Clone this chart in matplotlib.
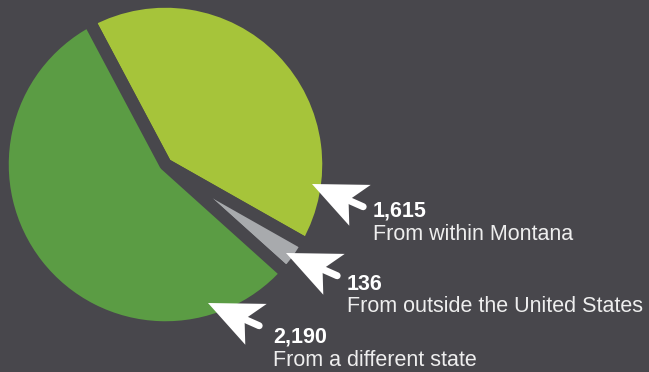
import numpy as np
import matplotlib
matplotlib.use("Agg")
import matplotlib.pyplot as plt
from matplotlib.patches import Polygon
from matplotlib.lines import Line2D

# ---- data ----
values = [1615, 136, 2190]
value_labels = ["1,615", "136", "2,190"]
categories = ["From within Montana", "From outside the United States", "From a different state"]
colors = ["#a6c43a", "#a8aaad", "#5b9c44"]

BG = "#48474c"
W, H = 649, 372

fig = plt.figure(figsize=(W / 100, H / 100), dpi=100, facecolor=BG)
ax = fig.add_axes([0, 0, 1, 1])
ax.set_facecolor(BG)

cx, cy, R = 165.5, H - 164.5, 163
lw_px = 12.5
ax.pie(values, colors=colors, startangle=118, counterclock=False,
       center=(cx, cy), radius=R, frame=True,
       wedgeprops=dict(edgecolor=BG, linewidth=lw_px * 72 / 100, joinstyle="round"))
ax.set_xlim(0, W)
ax.set_ylim(0, H)
ax.set_aspect("equal")
ax.axis("off")

# annotation pointer tips (image px) and label anchors (left x, baseline y image px)
tips = [(312, 184), (286, 253), (208, 303)]
num_pos = [(373, 216), (347, 290), (273, 343)]
lab_pos = [(373, 240), (347, 312), (273, 366)]

u = np.array([0.914, -0.406])  # tip -> tail direction (data coords)
v = np.array([0.406, 0.914])

def pointer(tip_img):
    t = np.array([tip_img[0], H - tip_img[1]], dtype=float)
    pts = [t,
           t + 54 * u + 23 * v,
           t + 40 * u,
           t + 51 * u - 23 * v]
    ax.add_patch(Polygon(pts, closed=True, facecolor="white", edgecolor="none", zorder=5))
    a = t + 38 * u
    b = t + 56 * u
    ax.add_line(Line2D([a[0], b[0]], [a[1], b[1]], color="white",
                       linewidth=7 * 72 / 100, solid_capstyle="round", zorder=5))

for tip in tips:
    pointer(tip)

FONT = ["Liberation Sans", "DejaVu Sans"]
for (nx, ny), (lx, ly), vl, cat in zip(num_pos, lab_pos, value_labels, categories):
    ax.text(nx, H - ny, vl, color="white", fontsize=15.5, fontweight="bold",
            family=FONT, ha="left", va="baseline", zorder=6)
    ax.text(lx, H - ly, cat, color="#eeeeee", fontsize=15.5, family=FONT,
            ha="left", va="baseline", zorder=6)

fig.savefig("out.png", dpi=100, facecolor=BG)
